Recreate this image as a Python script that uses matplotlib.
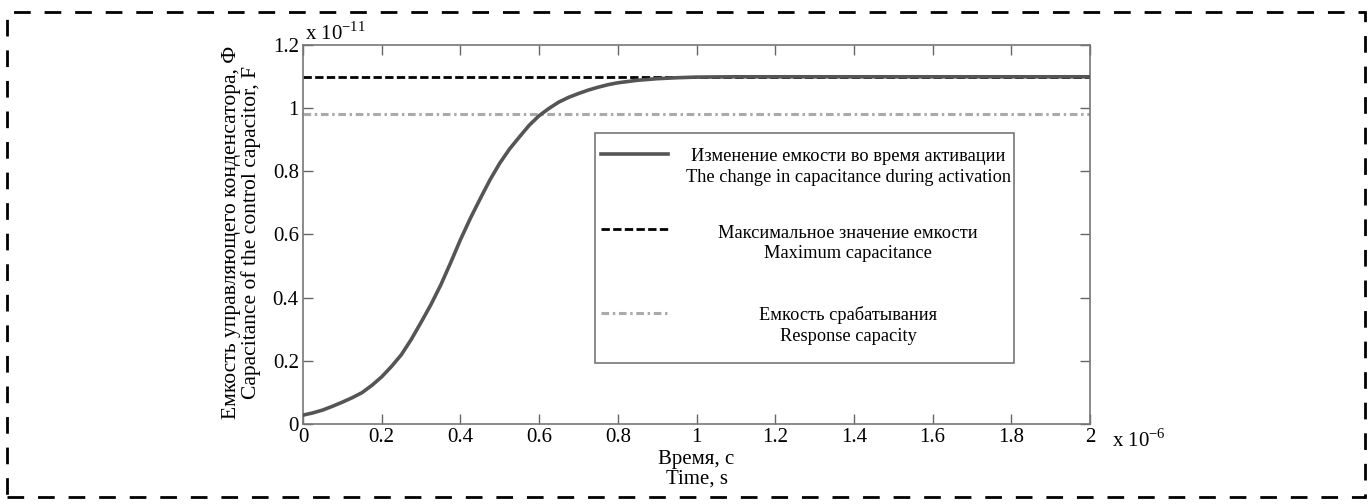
import matplotlib
matplotlib.use("Agg")
import matplotlib.pyplot as plt
from matplotlib.patches import Rectangle
from matplotlib.lines import Line2D

plt.rcParams['font.family'] = ['Liberation Serif', 'DejaVu Serif']
plt.rcParams['mathtext.fontset'] = 'custom'
plt.rcParams['mathtext.rm'] = 'Liberation Serif'

# time in units of 1e-6 s
time_us = [0.0, 0.025, 0.05, 0.075, 0.1, 0.125, 0.15, 0.175, 0.2, 0.225, 0.25, 0.275,
           0.3, 0.325, 0.35, 0.375, 0.4, 0.425, 0.45, 0.475, 0.5, 0.525, 0.55, 0.575,
           0.6, 0.625, 0.65, 0.675, 0.7, 0.725, 0.75, 0.775, 0.8, 0.85, 0.9, 0.95,
           1.0, 1.1, 1.2, 1.4, 1.6, 1.8, 2.0]
# capacitance in units of 1e-11 F
capacitance = [0.029, 0.036, 0.045, 0.057, 0.070, 0.084, 0.100, 0.123, 0.150, 0.183,
               0.220, 0.268, 0.322, 0.378, 0.440, 0.510, 0.583, 0.650, 0.712, 0.772,
               0.825, 0.870, 0.908, 0.945, 0.975, 0.998, 1.018, 1.033, 1.045, 1.056,
               1.065, 1.073, 1.079, 1.087, 1.092, 1.095, 1.097, 1.098, 1.098, 1.098,
               1.098, 1.098, 1.098]
max_capacitance = 1.097
response_capacitance = 0.98

x_ticks = [0, 0.2, 0.4, 0.6, 0.8, 1, 1.2, 1.4, 1.6, 1.8, 2]
x_tick_labels = ['0', '0.2', '0.4', '0.6', '0.8', '1', '1.2', '1.4', '1.6', '1.8', '2']
y_ticks = [0, 0.2, 0.4, 0.6, 0.8, 1, 1.2]
y_tick_labels = ['0', '0.2', '0.4', '0.6', '0.8', '1', '1.2']

legend_labels = [
    "Изменение емкости во время активации\nThe change in capacitance during activation",
    "Максимальное значение емкости\nMaximum capacitance",
    "Емкость срабатывания\nResponse capacity",
]

W, H = 1372, 504
fig = plt.figure(figsize=(W / 100, H / 100), dpi=100)

# dashed outer frame
fig.patches.append(Rectangle((7 / W, 7 / H), 1358 / W, 485 / H, transform=fig.transFigure,
                             fill=False, edgecolor='black', linewidth=2.0,
                             linestyle=(0, (6, 5)), zorder=0))

ax_l, ax_r, ax_t, ax_b = 303, 1090, 44.5, 424.3
ax = fig.add_axes([ax_l / W, (H - ax_b) / H, (ax_r - ax_l) / W, (ax_b - ax_t) / H])

curve_color = '#555555'
ax.plot([0, 2], [max_capacitance, max_capacitance], color='black', lw=2.0,
        linestyle=(0, (3.0, 1.2)), zorder=2)
ax.plot([0, 2], [response_capacitance, response_capacitance], color='#aaaaaa', lw=2.2,
        linestyle=(0, (2.5, 1.2, 0.8, 1.2)), zorder=2)
ax.plot(time_us, capacitance, color=curve_color, lw=2.6, zorder=3)

ax.set_xlim(0, 2)
ax.set_ylim(0, 1.2)
ax.set_xticks(x_ticks)
ax.set_xticklabels(x_tick_labels)
ax.set_yticks(y_ticks)
ax.set_yticklabels(y_tick_labels)
ax.tick_params(direction='in', length=7, width=1, color='#666666', top=True, right=True,
               labelsize=15, pad=3)
for s in ax.spines.values():
    s.set_color('#777777')
    s.set_linewidth(1.2)

ax.text(1.028, -0.012, r'x 10$^{-6}$', transform=ax.transAxes, fontsize=15,
        ha='left', va='top')
ax.text(0.003, 1.0, r'x 10$^{-11}$', transform=ax.transAxes, fontsize=15,
        ha='left', va='bottom')

ax.set_xlabel("Время, с\nTime, s", fontsize=15, labelpad=2, linespacing=1.05)
ax.set_ylabel("Емкость управляющего конденсатора, Ф\nCapacitance of the control capacitor, F",
              fontsize=15.5, linespacing=1.0)
ax.yaxis.set_label_coords(-0.054, 0.506)

# legend box (drawn in pixel-based axes fraction)
def fx(px):
    return (px - ax_l) / (ax_r - ax_l)

def fy(py):
    return (ax_b - py) / (ax_b - ax_t)

ax.add_patch(Rectangle((fx(595), fy(363)), fx(1014) - fx(595), fy(133) - fy(363),
                       transform=ax.transAxes, facecolor='white', edgecolor='#777777',
                       linewidth=1.2, zorder=4))
handle_styles = [
    dict(color=curve_color, lw=2.6, linestyle='-'),
    dict(color='black', lw=2.0, linestyle=(0, (3.0, 1.2))),
    dict(color='#aaaaaa', lw=2.2, linestyle=(0, (2.5, 1.2, 0.8, 1.2))),
]
handle_y = [154, 229, 313]
text_y = [167, 243.5, 325.5]
for st, hy, ty, lab in zip(handle_styles, handle_y, text_y, legend_labels):
    ax.add_line(Line2D([fx(601), fx(668)], [fy(hy), fy(hy)], transform=ax.transAxes,
                       zorder=5, **st))
    ax.text(fx(848), fy(ty), lab, transform=ax.transAxes, ha='center', va='center',
            multialignment='center', fontsize=13.2, linespacing=1.3, zorder=5)

fig.savefig('out.png', dpi=100)
